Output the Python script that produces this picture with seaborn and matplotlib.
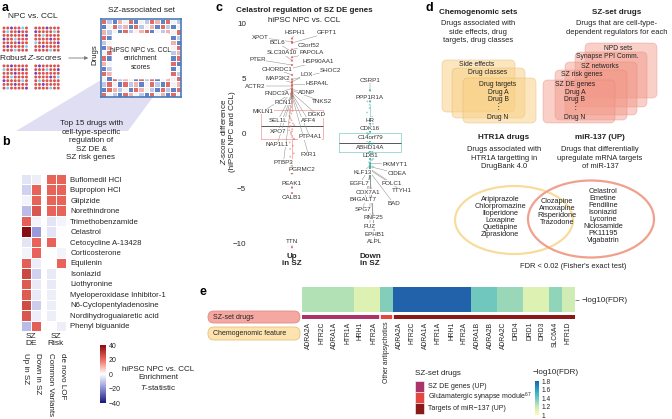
import numpy as np
import pandas as pd
import matplotlib
matplotlib.use("Agg")
import matplotlib.pyplot as plt
import seaborn as sns
from matplotlib.colors import LinearSegmentedColormap, ListedColormap
from matplotlib.patches import FancyBboxPatch, Ellipse, Polygon, Rectangle

# =============================
# Data
# =============================
# panel a: schematic score grids (colour codes only)
npc_dot_codes = [
    "rrprrcrrrrprrr",
    "rcrrprrprrrrcr",
    "rrrrrrprrcrrrr",
    "prrcrrrrrrrprr",
    "rrrrprrcrrrrrp",
    "rprrrrcrrprrrr",
    "rrrcrrrrrrrcrr",
    "rrprrrrrprrrrr",
    "crrrrprrrrcrrp",
    "rrrprrrprrrrrr",
    "rrcrrrrrrrrprc",
    "prrrrcrrcrrrrr",
    "rrrprrrrrprrrr",
    "rcrrrrprrrrcrr",
]
enrich_box_codes = [
    "rlbpwrbwlrpbrwl",
    "bwrlpbrlwpbrlbw",
    "plwbrlwprbwlpwr",
    "rbpwwwwwwwwwrbl",
    "lwrwwwwwwwwwwpb",
    "bprwwwwwwwwwbwr",
    "wrlwwwwwwwwwrlp",
    "rbwwwwwwwwwwlbr",
    "pwbwwwwwwwwwwrb",
    "blrwwwwwwwwwpbw",
    "rpwwwwwwwwwwbrl",
    "wbrlpwbrlrbwpwr",
    "lrwbrlpbwrlbrwp",
    "brplwbrpwlbrlbr",
    "rwlbrpwlbrwpbrw",
]

# panel b: enrichment T-statistics
drugs = ["Buflomedil HCl", "Bupropion HCl", "Glipizide", "Norethindrone",
         "Trimethobenzamide", "Celastrol", "Cetocycline A-13428", "Corticosterone",
         "Equilenin", "Isoniazid", "Liothyronine", "Myeloperoxidase Inhibitor-1",
         "N6-Cyclopentyladenosine", "Nordihydroguaiaretic acid", "Phenyl biguanide"]
t_up_in_sz = [-5, -8, -2, -12, 22, 40, -5, -2, 22, 27, 23, 23, 26, 24, -12]
t_down_in_sz = [-3, 21, 21, 24, -2, -18, 21, 21, -3, -8, -4, -4, -9, -3, 22]
t_common_variants = [21, 21, 21, 21, -5, -5, 21, 0, 0, -4, -4, -3, -3, -3, 0]
t_de_novo_lof = [21, 21, 21, 21, -2, 0, 0, -2, 21, 0, 0, 0, 0, 0, -3]

# panel c: celastrol Z-score differences
up_genes = ["XPOT", "HSPH1", "GFPT1", "BCL6", "C3orf52", "SLC30A10", "PAPOLA", "PTER",
            "HSP90AA1", "CHORDC1", "SHOC2", "LOX", "MAP3K2", "HSPA4L", "ACTR2", "FNDC3A",
            "ADNP", "TNKS2", "RCN1", "MKLN1", "DGKD", "SEL1L", "AFF4", "XPO7", "PTP4A1",
            "NAP1L1", "FXR1", "PTBP3", "PGRMC2", "PEAK1", "CALB1", "TTN"]
up_z = [8.3, 8.6, 8.2, 7.4, 7.6, 6.6, 6.9, 6.2, 5.9, 5.3, 4.9, 4.7, 4.6, 4.4, 4.3, 4.1,
        4.0, 3.9, 3.8, 3.7, 3.7, 3.6, 3.6, 3.5, 3.5, 3.4, 3.4, 3.3, -3.6, -4.9, -5.4, -10.3]
down_genes = ["CSRP1", "PPP1R1A", "HR", "CDK16", "C14orf79", "ABHD14A", "LDB1", "PKMYT1",
              "KLF13", "CIDEA", "EGFL7", "POLC1", "TTYH1", "COX7A1", "B4GALT7", "BAD",
              "SPG7", "RNF25", "FUZ", "EPHB1", "ALPL"]
down_z = [3.9, 2.9, 0.9, 0.2, -0.7, -1.6, -2.3, -2.7, -2.9, -3.0, -3.1, -3.2, -3.3, -3.4,
          -5.9, -3.5, -3.6, -3.7, -3.8, -3.9, -4.0]
up_other_z = [-3.6, 2.2, -0.35, 1.2, -2.9, 0.1, 3.5, -1.1, 0.68, 2.6, -2.5, 0.4, 1.95,
              -0.2, 3.0, -1.8, 0.75, 2.9, -0.5, 1.6, -3.2, 0.3, 2.4, -0.8, 1.0, 3.7, -2.1,
              0.6, 1.35, -0.05, 2.75, -1.4, 0.9, 3.2, 0.2, 1.8, -0.5, 2.05, 1.5, 3.35]
down_other_z = [-3.0, 0.15, -1.65, -0.82, -2.8, 2.3, -1.25, -0.3, -2.15, 0.9, -1.45, -0.6,
                -2.6, 1.5, -1.05, 0.04, -1.9, 2.9, -0.88, -0.4, -2.4, 0.35, -1.15, -0.1,
                -1.72, 1.2, -0.95, -0.7, -2.3, 2.6, -1.35, -0.5, -2.0, 0.6, -1.55, -0.2,
                -1.8, 1.9, -1.0, -0.02]
# where the repelled gene labels sit (category units, z units)
up_label_xy = [(-0.41, 8.7), (0.04, 9.1), (0.45, 9.1), (-0.19, 8.2), (0.21, 8.0),
               (-0.13, 7.3), (0.25, 7.3), (-0.44, 6.7), (0.33, 6.5), (-0.19, 5.8),
               (0.49, 5.7), (0.19, 5.3), (-0.18, 5.0), (0.32, 4.5), (-0.47, 4.3),
               (-0.19, 3.6), (0.19, 3.7), (0.38, 2.9), (-0.12, 2.8), (-0.37, 2.0),
               (0.32, 1.7), (-0.18, 1.2), (0.21, 1.2), (-0.18, 0.2), (0.23, -0.3),
               (-0.19, -1.0), (0.21, -1.9), (-0.11, -2.6), (0.13, -3.3), (0.0, -4.5),
               (0.0, -5.75), (0.0, -9.8)]
down_label_xy = [(1.0, 4.8), (1.0, 3.3), (1.0, 1.2), (1.0, 0.45), (1.0, -0.4),
                 (1.0, -1.3), (1.0, -2.0), (1.32, -2.8), (0.91, -3.5), (1.35, -3.6),
                 (0.87, -4.5), (1.28, -4.5), (1.41, -5.2), (0.97, -5.3), (0.91, -6.0),
                 (1.3, -6.3), (0.91, -6.9), (1.04, -7.6), (1.0, -8.4), (1.06, -9.1),
                 (1.06, -9.8)]

# panel d: Venn lists
htr1a_only = ["Aripiprazole", "Chlorpromazine", "Iloperidone", "Loxapine", "Quetiapine",
              "Ziprasidone"]
shared_drugs = ["Clozapine", "Amoxapine", "Risperidone", "Trazodone"]
mir137_only = ["Celastrol", "Emetine", "Fendiline", "Isoniazid", "Lycorine", "Niclosamide",
               "PK11195", "Vigabatrin"]

# panel e: chemogenomic enrichment
e_targets = ["ADRA2A", "HTR2C", "ADRA1A", "HTR1A", "HRH1", "HTR2A", "Other antipsychotics",
             "ADRA2A", "HTR2C", "ADRA1A", "HTR1A", "HRH1", "HTR2A", "ADRA1B", "ADRA2B",
             "ADRA2C", "DRD4", "DRD1", "DRD3", "SLC6A4", "HTR1D"]
e_neglog_fdr = [1.25, 1.25, 1.25, 1.25, 1.12, 1.12, 1.35, 1.8, 1.8, 1.8, 1.8, 1.8, 1.8,
                1.4, 1.4, 1.3, 1.3, 1.12, 1.12, 1.32, 1.18]
e_set = ["SZ DE genes (UP)"] * 6 + ["Glutamatergic synapse module"] + \
        ["Targets of miR-137 (UP)"] * 14
set_order = ["SZ DE genes (UP)", "Glutamatergic synapse module", "Targets of miR-137 (UP)"]
set_labels = ["SZ DE genes (UP)", "Glutamatergic synapse module$^{67}$",
              "Targets of miR\u2212137 (UP)"]
set_colors = ["#ab356b", "#e4473f", "#8a1a1a"]

# =============================
# Figure setup
# =============================
sns.set_theme(style="white")
plt.rcParams["font.family"] = ["Liberation Sans", "DejaVu Sans"]
plt.rcParams["mathtext.fontset"] = "custom"
plt.rcParams["mathtext.rm"] = "Liberation Sans"
plt.rcParams["mathtext.it"] = "Liberation Sans:italic"
plt.rcParams["mathtext.bf"] = "Liberation Sans:bold"
plt.rcParams["text.color"] = "#222222"

W, H = 672, 419
fig = plt.figure(figsize=(W / 100, H / 100), dpi=100)


def px_axes(x0, y0, x1, y1):
    ax = fig.add_axes([x0 / W, 1 - y1 / H, (x1 - x0) / W, (y1 - y0) / H])
    ax.patch.set_alpha(0)
    return ax


ov = px_axes(0, 0, W, H)
ov.set_xlim(0, W)
ov.set_ylim(H, 0)
ov.axis("off")


def txt(x, y, s, size=5.5, **kw):
    kw.setdefault("ha", "center")
    kw.setdefault("va", "center")
    return ov.text(x, y, s, fontsize=size, **kw)


for lab, (x, y) in zip("abcde", [(5, 8), (6, 142), (219, 8), (429, 8), (203, 292)]):
    txt(x, y, lab, 9, weight="bold", color="black")

# =============================
# Panel a
# =============================
dot_col = {"r": "#d9534f", "p": "#7b3fb5", "c": "#7fcbe8"}
xs, ys, cs = [], [], []
for i, row in enumerate(npc_dot_codes):
    for j, ch in enumerate(row):
        xs.append(4 + j * 3.75 + (j // 7) * 5.5)
        ys.append(28 + i * 3.7 + (i // 7) * 12)
        cs.append(dot_col[ch])
ov.scatter(xs, ys, c=cs, s=4.5, marker="o", linewidths=0)
txt(33, 17, "NPC vs. CCL", 6)
txt(31, 57.5, "Robust $Z$-scores", 6,
    bbox=dict(boxstyle="square,pad=0.15", fc="white", ec="none"))
ov.annotate("", xy=(91, 58), xytext=(66, 58),
            arrowprops=dict(arrowstyle="-|>", color="#777777", lw=0.6, mutation_scale=5))
txt(95, 55, "Drugs", 5.6, rotation=90)
txt(141, 11, "SZ-associated set", 6)
ov.add_patch(Polygon([(101, 80), (101, 97), (153, 97), (128, 131), (16, 131)],
                     closed=True, fc="#cbc8ec", ec="none", alpha=0.6, zorder=0))
txt(91, 140.5, "Top 15 drugs with\ncell-type-specific\nregulation of\nSZ DE &\nSZ risk genes",
    5.8, linespacing=1.3)

box_vals = np.array([["blwpr".index(ch) - 2 for ch in row] for row in enrich_box_codes])
ax_box = px_axes(101, 19, 181, 97)
sns.heatmap(box_vals, ax=ax_box,
            cmap=ListedColormap(["#5f83c6", "#bdc9e8", "#f3f3f3", "#f2b3b0", "#de6c68"]),
            vmin=-2.5, vmax=2.5, cbar=False, linewidths=0.5, linecolor="white",
            xticklabels=False, yticklabels=False)
ax_box.add_patch(FancyBboxPatch((2.0, 2.7), 11.0, 8.9,
                                boxstyle="round,pad=0,rounding_size=0.6",
                                fc="white", ec="none", zorder=5))
ax_box.text(7.5, 7.6, "hiPSC NPC vs. CCL\nenrichment\nscores", ha="center", va="center",
            fontsize=4.9, linespacing=1.3, zorder=6)
for s in ax_box.spines.values():
    s.set_visible(True)
    s.set_color("#4d7cb8")
    s.set_linewidth(1.2)

# =============================
# Panel b
# =============================
t_df = pd.DataFrame({"Up in SZ": t_up_in_sz, "Down in SZ": t_down_in_sz,
                     "Common Variants": t_common_variants, "de novo LOF": t_de_novo_lof},
                    index=drugs)
t_cmap = LinearSegmentedColormap.from_list(
    "tstat", ["#16167a", "#8d8fd6", "#ffffff", "#ee6a60", "#870b10"])
ax_de = px_axes(21, 174, 41, 331)
ax_risk = px_axes(46, 174, 66, 331)
cax_b = px_axes(100, 345, 106, 403)
sns.heatmap(t_df[["Up in SZ", "Down in SZ"]], ax=ax_de, cmap=t_cmap, vmin=-40, vmax=40,
            cbar=False, linewidths=0.7, linecolor="white",
            xticklabels=False, yticklabels=False)
sns.heatmap(t_df[["Common Variants", "de novo LOF"]], ax=ax_risk, cmap=t_cmap,
            vmin=-40, vmax=40, cbar_ax=cax_b, linewidths=0.7, linecolor="white",
            xticklabels=False, yticklabels=drugs)
ax_risk.yaxis.tick_right()
ax_risk.tick_params(axis="y", length=0, pad=3, labelsize=5.6)
plt.setp(ax_risk.get_yticklabels(), rotation=0, ha="left")
ax_de.set_ylabel("")
ax_risk.set_ylabel("")
cbar_b = ax_risk.collections[0].colorbar
cbar_b.outline.set_visible(False)
cbar_b.set_ticks([-40, -20, 0, 20, 40])
cax_b.tick_params(labelsize=5, length=0, pad=2)

txt(31, 340, "SZ\nDE", 6, linespacing=1.1)
txt(56, 340, "SZ\nRisk", 6, linespacing=1.1)
for x, lab in zip([25, 37.5, 50, 62.5], t_df.columns):
    txt(x, 353, lab, 5.8, rotation=-90, va="top")
txt(158, 379, "hiPSC NPC vs. CCL\nEnrichment\n$T$-statistic", 5.8, linespacing=1.2)

# =============================
# Panel c
# =============================
ax_c = px_axes(253, 12, 409, 255)
bg = pd.DataFrame({"group": ["Up"] * len(up_other_z) + ["Down"] * len(down_other_z),
                   "z": up_other_z + down_other_z})
lab = pd.DataFrame({"group": ["Up"] * len(up_z) + ["Down"] * len(down_z),
                    "z": up_z + down_z})
order = ["Up", "Down"]
sns.boxplot(data=bg, x="group", y="z", order=order, hue="group", hue_order=order,
            palette={"Up": "#f3aaa6", "Down": "#92d5cf"}, fill=False, width=0.8,
            showfliers=False, linewidth=0.6, legend=False, ax=ax_c,
            medianprops={"color": "#555555", "linewidth": 0.7},
            capprops={"linewidth": 0})
np.random.seed(2)
sns.stripplot(data=bg, x="group", y="z", order=order, hue="group", hue_order=order,
              palette={"Up": "#e5554d", "Down": "#2fb0a5"}, jitter=0.04, size=1.3,
              alpha=0.5, legend=False, ax=ax_c)
sns.stripplot(data=lab, x="group", y="z", order=order, hue="group", hue_order=order,
              palette={"Up": "#e5554d", "Down": "#2fb0a5"}, jitter=False, size=1.6,
              alpha=0.8, legend=False, ax=ax_c)
for gx, genes, vals, pos in [(0, up_genes, up_z, up_label_xy),
                             (1, down_genes, down_z, down_label_xy)]:
    for g, v, (lx, ly) in zip(genes, vals, pos):
        ax_c.plot([lx, gx], [ly, v], color="#8c8c8c", lw=0.35, zorder=3)
        ax_c.text(lx, ly, g, ha="center", va="center", fontsize=4.5, color="#333333",
                  zorder=4, bbox=dict(boxstyle="square,pad=0.05", fc="white", ec="none"))
ax_c.set_xlim(-0.5, 1.5)
ax_c.set_ylim(-11, 11)
ax_c.set_yticks([-10, -5, 0, 5, 10])
ax_c.set_xticks([])
ax_c.set_xlabel("")
ax_c.set_ylabel("")
ax_c.tick_params(axis="y", length=0, pad=5, labelsize=5.8)
sns.despine(ax=ax_c, left=True, bottom=True)
txt(304, 10, "Celastrol regulation of SZ DE genes", 5.8, weight="bold")
txt(304, 20, "hiPSC NPC vs. CCL", 5.8)
txt(228, 132, "$Z$-score difference\n(hiPSC NPC and CCL)", 5.8, rotation=90,
    linespacing=1.2)
txt(292, 260, "Up\nin SZ", 5.8, weight="bold", linespacing=1.15)
txt(370, 260, "Down\nin SZ", 5.8, weight="bold", linespacing=1.15)

# =============================
# Panel d
# =============================
txt(478, 12, "Chemogenomic sets", 5.8, weight="bold")
txt(478, 32, "Drugs associated with\nside effects, drug\ntargets, drug classes", 5.4,
    linespacing=1.25)
txt(617, 12, "SZ-set drugs", 5.8, weight="bold")
txt(617, 28, "Drugs that are cell-type-\ndependent regulators for each", 5.4,
    linespacing=1.25)
for (x0, y0, h) in [(442, 60, 52), (452, 68, 50), (463, 78, 45)]:
    ov.add_patch(FancyBboxPatch((x0, y0), 73, h, boxstyle="round,pad=0,rounding_size=5",
                                fc="#f9cf83", ec="#dfae5a", lw=0.5, alpha=0.5))
for (x0, y0, h) in [(585, 43, 55), (575, 52, 55), (565, 62, 53), (555, 70, 50),
                    (543, 80, 43)]:
    ov.add_patch(FancyBboxPatch((x0, y0), 72, h, boxstyle="round,pad=0,rounding_size=5",
                                fc="#f29686", ec="#e07e70", lw=0.5, alpha=0.45))
for s, x, y in [("Side effects", 477, 64), ("Drug classes", 488, 73),
                ("Drug targets", 498, 85), ("Drug A", 498, 92), ("Drug B", 498, 99),
                ("Drug N", 498, 117), ("NPD sets", 618, 48),
                ("Synapse PPI Comm.", 607, 57), ("SZ networks", 600, 66),
                ("SZ risk genes", 582, 75), ("SZ DE genes", 575, 84), ("Drug A", 575, 92),
                ("Drug B", 575, 99), ("Drug N", 575, 117)]:
    txt(x, y, s, 4.9)
for x in [498, 575]:
    txt(x, 107, "\u22ee", 5.5)

txt(504, 137, "HTR1A drugs", 5.8, weight="bold")
txt(504, 158, "Drugs associated with\nHTR1A targetting in\nDrugBank 4.0", 5.4,
    linespacing=1.25)
txt(600, 137, "miR-137 (UP)", 5.8, weight="bold")
txt(600, 158, "Drugs that differentially\nupregulate mRNA targets\nof miR-137", 5.4,
    linespacing=1.25)
ov.add_patch(Ellipse((514, 220), 118, 68, fill=False, ec="#f8dc9c", lw=1.6))
ov.add_patch(Ellipse((591, 219), 126, 77, fill=False, ec="#f0a08c", lw=1.6))
txt(500, 216.5, "\n".join(htr1a_only), 5.3, linespacing=1.0)
txt(557, 211.5, "\n".join(shared_drugs), 5.3, linespacing=1.0)
txt(603, 216, "\n".join(mir137_only), 5.3, linespacing=1.0)
txt(573, 266, "FDR < 0.02 (Fisher's exact test)", 5.4)

# =============================
# Panel e
# =============================
fdr_cmap = ListedColormap(plt.get_cmap("YlGnBu")(np.linspace(0.08, 0.74, 256)))
e_df = pd.DataFrame([e_neglog_fdr])
ax_e = px_axes(302, 287, 575, 312)
cax_e = px_axes(535, 381, 539, 415)
sns.heatmap(e_df, ax=ax_e, cmap=fdr_cmap, vmin=1, vmax=1.8, cbar_ax=cax_e,
            xticklabels=False, yticklabels=False)
ax_e.yaxis.tick_right()
ax_e.set_yticks([0.5])
ax_e.set_yticklabels(["\u2212log10(FDR)"], rotation=0, fontsize=5.8)
ax_e.tick_params(axis="y", length=3, width=0.5, pad=2, right=True, color="#555555")
cbar_e = ax_e.collections[0].colorbar
cbar_e.outline.set_visible(False)
cbar_e.set_ticks([1, 1.2, 1.4, 1.6, 1.8])
cbar_e.set_ticklabels(["1", "1.2", "1.4", "1.6", "1.8"])
cax_e.tick_params(labelsize=4.8, length=0, pad=1.5)

set_codes = [[set_order.index(s) for s in e_set]]
ax_set = px_axes(302, 315, 575, 319)
sns.heatmap(set_codes, ax=ax_set, cmap=ListedColormap(set_colors), vmin=-0.5, vmax=2.5,
            cbar=False, xticklabels=e_targets, yticklabels=False)
for k in range(1, len(e_set)):
    if e_set[k] != e_set[k - 1]:
        ax_set.axvline(k, color="white", lw=1.2)
ax_set.tick_params(axis="x", length=0, pad=2, labelsize=4.9, rotation=90)

ov.add_patch(FancyBboxPatch((208, 311), 92, 12, boxstyle="round,pad=0,rounding_size=6",
                            fc="#f5a8a2", ec="#e38a83", lw=0.6))
ov.add_patch(FancyBboxPatch((208, 327), 92, 13, boxstyle="round,pad=0,rounding_size=6",
                            fc="#fde3ae", ec="#e9c27c", lw=0.6))
txt(213, 317, "SZ-set drugs", 5, ha="left")
txt(213, 333.5, "Chemogenomic feature", 5, ha="left")

txt(415, 373, "SZ-set drugs", 5.8, ha="left")
for i, (c, s) in enumerate(zip(set_colors, set_labels)):
    ov.add_patch(Rectangle((415, 381 + i * 11), 9, 11, fc=c, ec="white", lw=0.4))
    txt(428, 386.5 + i * 11, s, 5, ha="left")
txt(533, 372, "\u2212log10(FDR)", 5.8, ha="left")

plt.savefig("out.png", dpi=100)
